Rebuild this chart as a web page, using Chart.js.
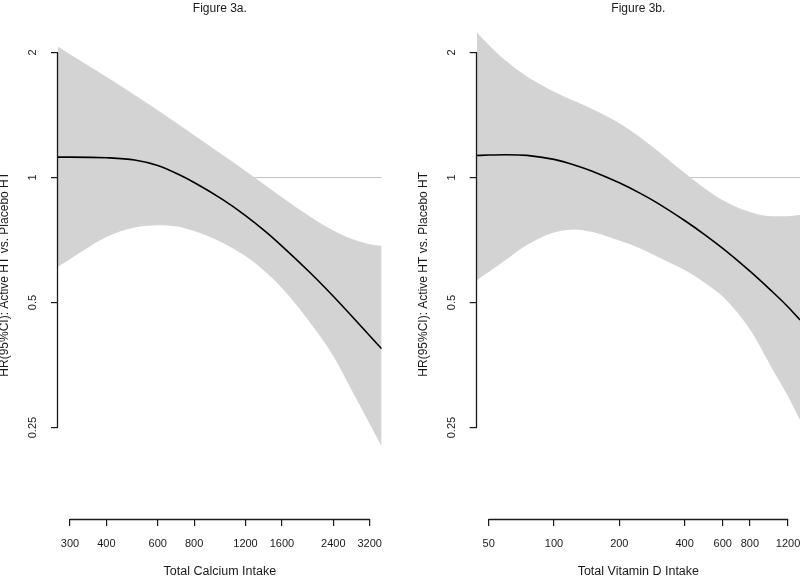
<!DOCTYPE html>
<html>
<head>
<meta charset="utf-8">
<script src="https://cdn.jsdelivr.net/npm/chart.js@4"></script>
<style>
  html, body { margin: 0; padding: 0; background: #fff; }
  #wrap { position: relative; width: 800px; height: 577px; overflow: hidden; }
  .panel { position: absolute; top: 0; width: 400px; height: 577px; }
</style>
</head>
<body>
<div id="wrap">
  <div class="panel" style="left:0"><canvas id="fig3a"></canvas></div>
  <div class="panel" style="left:400px"><canvas id="fig3b"></canvas></div>
</div>
<script>
// ---- data ----
// Figure 3a: total calcium intake
const calciumX     = [273, 300, 400, 500, 600, 700, 800, 1000, 1200, 1400, 1600, 2000, 2400, 2800, 3200, 3518];
const calciumHR    = [1.120, 1.120, 1.116, 1.102, 1.069, 1.021, 0.973, 0.886, 0.810, 0.743, 0.684, 0.590, 0.518, 0.461, 0.416, 0.387];
const calciumUpper = [2.065, 1.982, 1.748, 1.580, 1.452, 1.349, 1.264, 1.134, 1.037, 0.959, 0.896, 0.805, 0.746, 0.710, 0.691, 0.685];
const calciumLower = [0.610, 0.636, 0.719, 0.758, 0.768, 0.762, 0.743, 0.697, 0.647, 0.594, 0.542, 0.447, 0.372, 0.304, 0.255, 0.225];
const calciumTicks = [300, 400, 600, 800, 1200, 1600, 2400, 3200];

// Figure 3b: total vitamin D intake
const vitDX     = [44, 50, 60, 75, 100, 125, 150, 200, 250, 300, 400, 500, 600, 800, 1000, 1200, 1362];
const vitDHR    = [1.130, 1.133, 1.135, 1.131, 1.106, 1.071, 1.036, 0.971, 0.916, 0.868, 0.788, 0.726, 0.675, 0.595, 0.535, 0.488, 0.454];
const vitDUpper = [2.237, 2.085, 1.910, 1.752, 1.610, 1.526, 1.462, 1.352, 1.249, 1.160, 1.025, 0.938, 0.882, 0.826, 0.807, 0.807, 0.812];
const vitDLower = [0.566, 0.592, 0.634, 0.688, 0.737, 0.750, 0.739, 0.705, 0.675, 0.645, 0.599, 0.556, 0.517, 0.431, 0.351, 0.297, 0.261];
const vitDTicks = [50, 100, 200, 400, 600, 800, 1200];

const hrTicks = [0.25, 0.5, 1, 2];

// ---- look ----
const FONT = "'Liberation Sans', Arial, Helvetica, sans-serif";
const INK = "#1a1a1a";
const BAND = "#d3d3d3";
const REF = "#c4c4c4";

const pts = (xs, ys) => xs.map((x, i) => ({ x: x, y: ys[i] }));

// R style axis line: only from first to last tick
const rAxisLines = {
  id: "rAxisLines",
  afterDraw(chart) {
    const { ctx } = chart;
    const x = chart.scales.x, y = chart.scales.y;
    const x0 = x.getPixelForValue(x.ticks[0].value);
    const x1 = x.getPixelForValue(x.ticks[x.ticks.length - 1].value);
    const y0 = y.getPixelForValue(y.ticks[0].value);
    const y1 = y.getPixelForValue(y.ticks[y.ticks.length - 1].value);
    const bx = Math.round(y.right) - 0.5;
    const by = Math.round(x.top) + 0.5;
    ctx.save();
    ctx.strokeStyle = INK;
    ctx.lineWidth = 1.3;
    ctx.beginPath();
    ctx.moveTo(x0, by); ctx.lineTo(x1, by);
    ctx.moveTo(bx, y0); ctx.lineTo(bx, y1);
    ctx.stroke();
    ctx.restore();
  }
};

function makePanel(id, opt) {
  return new Chart(document.getElementById(id), {
    type: "line",
    data: {
      datasets: [
        {
          label: "HR",
          data: pts(opt.xs, opt.hr),
          borderColor: "#000",
          borderWidth: 1.6,
          pointRadius: 0,
          cubicInterpolationMode: "monotone",
          fill: false
        },
        {
          label: "upper",
          data: pts(opt.xs, opt.upper),
          borderColor: "rgba(0,0,0,0)",
          borderWidth: 0,
          backgroundColor: BAND,
          pointRadius: 0,
          cubicInterpolationMode: "monotone",
          fill: "+1"
        },
        {
          label: "lower",
          data: pts(opt.xs, opt.lower),
          borderColor: "rgba(0,0,0,0)",
          borderWidth: 0,
          pointRadius: 0,
          cubicInterpolationMode: "monotone",
          fill: false
        },
        {
          label: "ref",
          data: [{ x: opt.min, y: 1 }, { x: opt.max, y: 1 }],
          borderColor: REF,
          borderWidth: 1,
          pointRadius: 0,
          fill: false
        }
      ]
    },
    options: {
      responsive: true,
      maintainAspectRatio: false,
      animation: false,
      events: [],
      layout: { padding: { left: opt.padL, right: opt.padR, top: 0, bottom: 0 } },
      plugins: {
        legend: { display: false },
        tooltip: { enabled: false },
        title: {
          display: true,
          fullSize: false,
          text: opt.title,
          color: INK,
          font: { family: FONT, size: 12, weight: "normal", lineHeight: 1 },
          padding: { top: 2.3, bottom: 15.3 }
        }
      },
      scales: {
        x: {
          type: "logarithmic",
          min: opt.min,
          max: opt.max,
          afterBuildTicks: (s) => { s.ticks = opt.ticks.map((v) => ({ value: v })); },
          afterFit: (s) => { s.height = 58; s.paddingLeft = 0; s.paddingRight = 0; },
          grid: { display: true, drawOnChartArea: false, drawTicks: true, tickLength: 7, color: INK, lineWidth: 1.2 },
          border: { display: false },
          ticks: {
            autoSkip: false, minRotation: 0, maxRotation: 0, padding: 11,
            color: INK, font: { family: FONT, size: 11 },
            callback: (v) => String(v)
          },
          title: {
            display: true, text: opt.xTitle, color: INK,
            font: { family: FONT, size: 12.5, lineHeight: 1 },
            padding: { top: 0, bottom: -1 }
          }
        },
        y: {
          type: "logarithmic",
          min: 0.1506,
          max: 2.271,
          afterBuildTicks: (s) => { s.ticks = hrTicks.map((v) => ({ value: v })); },
          afterFit: (s) => { s.width = 58; s.paddingTop = 0; s.paddingBottom = 0; },
          grid: { display: true, drawOnChartArea: false, drawTicks: true, tickLength: 7, color: INK, lineWidth: 1.2 },
          border: { display: false },
          ticks: {
            autoSkip: false, minRotation: 90, maxRotation: 90, crossAlign: "center", padding: 7,
            color: INK, font: { family: FONT, size: 11 },
            callback: (v) => String(v)
          },
          title: {
            display: true, text: "HR(95%CI): Active HT vs. Placebo HT", color: INK,
            font: { family: FONT, size: 12, lineHeight: 1 },
            padding: { top: -1, bottom: 0 }
          }
        }
      }
    },
    plugins: [rAxisLines]
  });
}

makePanel("fig3a", {
  title: "Figure 3a.",
  xTitle: "Total Calcium Intake",
  xs: calciumX, hr: calciumHR, upper: calciumUpper, lower: calciumLower,
  ticks: calciumTicks, min: 273, max: 3518,
  padL: 0, padR: 18.3
});

makePanel("fig3b", {
  title: "Figure 3b.",
  xTitle: "Total Vitamin D Intake",
  xs: vitDX, hr: vitDHR, upper: vitDUpper, lower: vitDLower,
  ticks: vitDTicks, min: 44, max: 1362,
  padL: 18.7, padR: 0
});
</script>
</body>
</html>
